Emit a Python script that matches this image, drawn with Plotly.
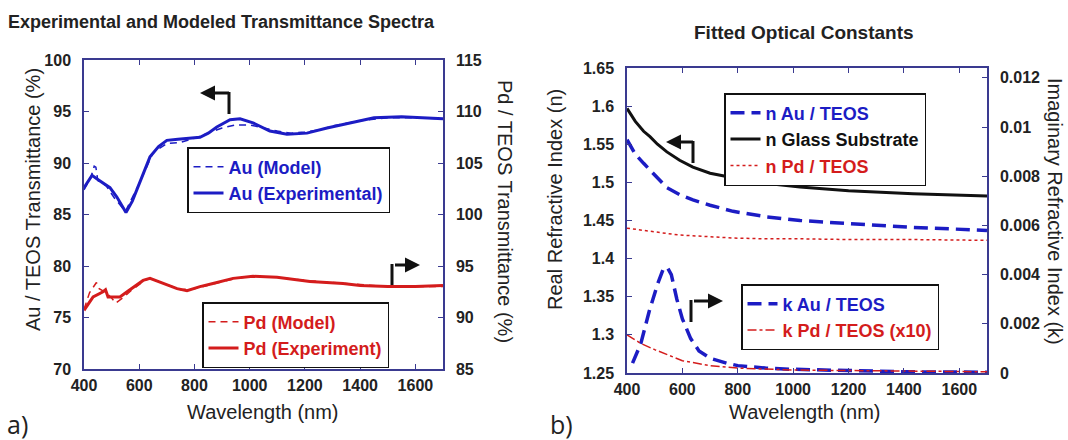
import plotly.graph_objects as go

W, H = 1068, 440

# ---------------- Panel a: transmittance spectra ----------------
au_exp_wl = [400, 429, 450, 480, 494, 519, 552, 575, 603, 639, 670, 700, 740, 773, 820, 850,
             881, 929, 965, 1012, 1073, 1135, 1207, 1280, 1363, 1450, 1550, 1620, 1700]
au_exp_t = [87.6, 88.8, 88.4, 87.9, 87.6, 86.7, 85.2, 86.3, 88.1, 90.6, 91.6, 92.2, 92.3, 92.4,
            92.5, 92.9, 93.5, 94.2, 94.3, 93.9, 93.1, 92.8, 92.9, 93.4, 93.9, 94.4, 94.5, 94.4, 94.3]

au_mod_wl = [400, 425, 437, 443, 450, 480, 510, 550, 600, 650, 700, 750, 800, 900, 950, 1000,
             1050, 1100, 1150, 1200, 1250, 1300, 1400, 1500, 1600, 1700]
au_mod_t = [87.4, 88.6, 89.7, 89.6, 88.3, 87.8, 86.6, 85.3, 88.0, 91.0, 91.9, 92.0, 92.4, 93.4,
            93.7, 93.7, 93.4, 93.1, 92.9, 93.0, 93.2, 93.6, 94.1, 94.4, 94.4, 94.3]

pd_exp_wl = [400, 433, 469, 478, 487, 530, 556, 614, 639, 686, 737, 773, 820, 867, 940, 1012,
             1099, 1218, 1338, 1400, 1500, 1600, 1700]
pd_exp_t = [90.7, 92.0, 92.5, 92.7, 92.0, 92.0, 92.5, 93.6, 93.8, 93.3, 92.8, 92.6, 93.0, 93.3,
            93.8, 94.0, 93.9, 93.5, 93.3, 93.1, 93.0, 93.0, 93.1]

pd_mod_wl = [400, 420, 445, 455, 480, 500, 515, 545, 570, 620, 640, 700, 750, 800, 870, 950,
             1010, 1100, 1200, 1340, 1500, 1700]
pd_mod_t = [90.8, 92.4, 93.4, 92.8, 92.4, 91.9, 91.4, 92.0, 92.6, 93.6, 93.8, 93.2, 92.7, 92.8,
            93.3, 93.8, 94.0, 93.9, 93.6, 93.3, 93.0, 93.0]

# ---------------- Panel b: fitted optical constants ----------------
n_wl = [400, 430, 460, 483, 510, 544, 590, 638, 700, 783, 900, 1025, 1200, 1433, 1700]
n_glass = [1.597, 1.580, 1.567, 1.560, 1.550, 1.540, 1.529, 1.520, 1.512, 1.506, 1.499, 1.494,
           1.489, 1.485, 1.482]
n_au = [1.556, 1.537, 1.525, 1.516, 1.505, 1.493, 1.484, 1.477, 1.470, 1.462, 1.455, 1.450,
        1.446, 1.441, 1.437]
n_pd = [1.440, 1.438, 1.437, 1.436, 1.435, 1.433, 1.431, 1.430, 1.428, 1.427, 1.426, 1.426,
        1.425, 1.425, 1.424]

k_au_wl = [420, 450, 480, 510, 530, 545, 560, 580, 600, 630, 660, 700, 760, 800, 900, 1000,
           1200, 1400, 1700]
k_au = [0.0004, 0.0012, 0.0025, 0.0036, 0.0042, 0.0043, 0.0040, 0.0030, 0.0022, 0.0014, 0.0009,
        0.0006, 0.0004, 0.0003, 0.0002, 0.00015, 0.0001, 0.00005, 0.00003]

k_pd_wl = [400, 450, 500, 550, 600, 700, 800, 1000, 1300, 1700]
k_pd_x10 = [0.00155, 0.00120, 0.00095, 0.00072, 0.00050, 0.00030, 0.00020, 0.00012, 0.00008,
            0.00005]

BLUE = "#1c1cc4"
RED = "#d41c1c"
BLACK = "#111111"
FRAME = "#3a3a90"
TEXT = "#222222"

FONT = "Liberation Sans"
TICKFONT = dict(family=FONT, size=16, color=TEXT, weight="bold")
LONG_DASH = "14px,7px"


def px(x):
    return x / W


def py(y):
    return 1 - y / H


def lbl(text, color):
    return f"<span style='color:{color}'>{text}</span>"


fig = go.Figure()

# panel a traces
fig.add_trace(go.Scatter(x=au_mod_wl, y=au_mod_t, mode="lines", name=lbl("Au (Model)", BLUE),
                         line=dict(color=BLUE, width=1.5, dash="7px,5px"), legend="legend",
                         xaxis="x", yaxis="y"))
fig.add_trace(go.Scatter(x=au_exp_wl, y=au_exp_t, mode="lines",
                         name=lbl("Au (Experimental)", BLUE),
                         line=dict(color=BLUE, width=3), legend="legend", xaxis="x", yaxis="y"))
fig.add_trace(go.Scatter(x=pd_mod_wl, y=pd_mod_t, mode="lines", name=lbl("Pd (Model)", RED),
                         line=dict(color=RED, width=1.5, dash="7px,5px"), legend="legend2",
                         xaxis="x", yaxis="y2"))
fig.add_trace(go.Scatter(x=pd_exp_wl, y=pd_exp_t, mode="lines",
                         name=lbl("Pd (Experiment)", RED),
                         line=dict(color=RED, width=3), legend="legend2", xaxis="x", yaxis="y2"))

# panel b traces
fig.add_trace(go.Scatter(x=n_wl, y=n_au, mode="lines", name=lbl("n Au / TEOS", BLUE),
                         line=dict(color=BLUE, width=3.5, dash=LONG_DASH), legend="legend3",
                         xaxis="x2", yaxis="y3"))
fig.add_trace(go.Scatter(x=n_wl, y=n_glass, mode="lines", name=lbl("n Glass Substrate", BLACK),
                         line=dict(color=BLACK, width=3), legend="legend3",
                         xaxis="x2", yaxis="y3"))
fig.add_trace(go.Scatter(x=n_wl, y=n_pd, mode="lines", name=lbl("n Pd / TEOS", RED),
                         line=dict(color=RED, width=1.5, dash="dot"), legend="legend3",
                         xaxis="x2", yaxis="y3"))
fig.add_trace(go.Scatter(x=k_au_wl, y=k_au, mode="lines", name=lbl("k Au / TEOS", BLUE),
                         line=dict(color=BLUE, width=3.5, dash=LONG_DASH), legend="legend4",
                         xaxis="x2", yaxis="y4"))
fig.add_trace(go.Scatter(x=k_pd_wl, y=k_pd_x10, mode="lines",
                         name=lbl("k Pd / TEOS (x10)", RED),
                         line=dict(color=RED, width=1.5, dash="dashdot"), legend="legend4",
                         xaxis="x2", yaxis="y4"))

axis_common = dict(showline=True, linecolor=FRAME, linewidth=1.5, ticks="inside", ticklen=5,
                   tickcolor=FRAME, tickwidth=1, showgrid=False, zeroline=False,
                   tickfont=TICKFONT, automargin=False)

xa = [84, 443]
ya = [60, 369]
xb = [627, 987]
yb = [68, 373]

legend_common = dict(bgcolor="white", bordercolor=BLACK, borderwidth=1.5,
                     font=dict(family=FONT, size=18, weight="bold"),
                     xref="paper", yref="paper", xanchor="left", yanchor="top",
                     tracegroupgap=0, itemwidth=30)

fig.update_layout(
    template="none",
    width=W, height=H, margin=dict(l=0, r=0, t=0, b=0, autoexpand=False),
    paper_bgcolor="white", plot_bgcolor="white",
    xaxis=dict(domain=[px(xa[0]), px(xa[1])], range=[400, 1700],
               tickvals=list(range(400, 1701, 200)), mirror="ticks", anchor="y",
               ticklabelstandoff=1, **axis_common),
    yaxis=dict(domain=[py(ya[1]), py(ya[0])], range=[70, 100], dtick=5, anchor="x",
               ticklabelstandoff=8, **axis_common),
    yaxis2=dict(range=[85, 115], dtick=5, overlaying="y", side="right", anchor="x",
                ticklabelstandoff=8, **axis_common),
    xaxis2=dict(domain=[px(xb[0]), px(xb[1])], range=[400, 1700],
                tickvals=list(range(400, 1701, 200)), mirror="ticks", anchor="y3",
                ticklabelstandoff=1, **axis_common),
    yaxis3=dict(domain=[py(yb[1]), py(yb[0])], range=[1.25, 1.65], dtick=0.05, anchor="x2",
                tickformat="~g", ticklabelstandoff=8, **axis_common),
    yaxis4=dict(range=[0, 0.0124], tickvals=[0, 0.002, 0.004, 0.006, 0.008, 0.01, 0.012],
                ticktext=["0", "0.002", "0.004", "0.006", "0.008", "0.01", "0.012"],
                overlaying="y3", side="right", anchor="x2", ticklabelstandoff=8,
                **axis_common),
    legend=dict(x=px(187), y=py(147), **legend_common),
    legend2=dict(x=px(202), y=py(302), **legend_common),
    legend3=dict(x=px(724), y=py(93), **legend_common),
    legend4=dict(x=px(741), y=py(284), **legend_common),
    showlegend=True,
)

annotations = []


def text(x, y, s, size, bold=False, angle=0, xanchor="center", family=FONT, color=TEXT):
    annotations.append(dict(x=px(x), y=py(y), xref="paper", yref="paper", text=s,
                            showarrow=False, textangle=angle, xanchor=xanchor, yanchor="middle",
                            font=dict(family=family, size=size, color=color,
                                      weight="bold" if bold else "normal")))


text(6, 22, "Experimental and Modeled Transmittance Spectra", 18, bold=True, xanchor="left")
text(804, 33, "Fitted Optical Constants", 19, bold=True)
text(263, 412, "Wavelength (nm)", 20)
text(805, 412, "Wavelength (nm)", 20)
text(33, 200, "Au / TEOS Transmittance (%)", 20, angle=-90)
text(505, 211, "Pd / TEOS Transmittance (%)", 20, angle=90)
text(555, 200, "Real Refractive Index (n)", 20, angle=-90)
text(1055, 211, "Imaginary Refractive Index (k)", 20, angle=90)
text(5, 424, "a)", 25, xanchor="left", family="Open Sans")
text(548, 424, "b)", 25, xanchor="left", family="Open Sans")

shapes = []


def bent_arrow(xv, y_bottom, y_top, x_tip):
    # vertical stem, then an arrow running horizontally to the tip
    shapes.append(dict(type="line", xref="paper", yref="paper", x0=px(xv), x1=px(xv),
                       y0=py(y_bottom), y1=py(y_top - 1), line=dict(color=BLACK, width=3)))
    annotations.append(dict(x=px(x_tip), y=py(y_top), xref="paper", yref="paper", text="",
                            showarrow=True, ax=xv - x_tip + 1.5, ay=0, arrowhead=2,
                            arrowsize=1, arrowwidth=3, arrowcolor=BLACK))


bent_arrow(229, 114, 93, 200)
bent_arrow(392, 285, 265, 420)
bent_arrow(693, 163, 142, 666)
bent_arrow(691, 322, 301, 723)

fig.update_layout(annotations=annotations, shapes=shapes)
fig.write_html("out.html")
